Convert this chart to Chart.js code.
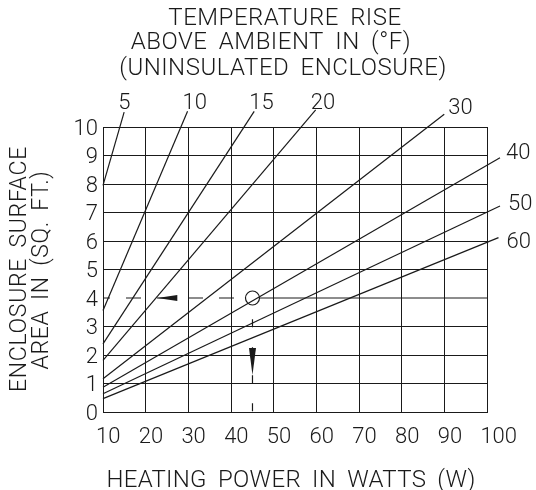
<!DOCTYPE html>
<html><head><meta charset="utf-8">
<script src="https://cdn.jsdelivr.net/npm/chart.js@4/dist/chart.umd.min.js"></script>
<style>html,body{margin:0;padding:0;background:#fff}</style>
</head><body>
<canvas id="c" width="536" height="490"></canvas>
<script>
// ---- data ----
const tempRiseLabels = ['5', '10', '15', '20', '30', '40', '50', '60'];
const lineStartPower = [10, 10, 10, 10, 10, 10, 10, 10];
const lineStartArea  = [7.95, 3.56, 2.39, 1.81, 1.17, 0.87, 0.64, 0.47];
const lineEndPower   = [14.95, 29.8, 45.4, 59.8, 89.9, 102.95, 102.95, 102.6];
const lineEndArea    = [10.52, 10.55, 10.55, 10.6, 10.45, 8.92, 7.23, 6.12];
const xTicks = [10, 20, 30, 40, 50, 60, 70, 80, 90, 100];
const yTicks = [0, 1, 2, 3, 4, 5, 6, 7, 8, 9, 10];
const examplePower = 45;
const exampleArea = 4;
const arrowLeftPower = [22.7, 27.4];   // tip, base
const arrowDownArea = [1.3, 2.25];     // tip, base
const titleLines = ['TEMPERATURE RISE', 'ABOVE AMBIENT IN (°F)', '(UNINSULATED ENCLOSURE)'];
const xTitle = 'HEATING POWER IN WATTS (W)';
const yTitle = ['ENCLOSURE SURFACE', 'AREA IN (SQ. FT.)'];

// ---- style / layout ----
const FONT = "Roboto, 'DejaVu Sans', sans-serif";
const WEIGHT = '300';
const INK = '#1a1a1a';
const titleCenters = [285, 271, 283];
const titleBaselines = [25, 49, 75];
const xTitlePos = [291, 487];
const yTitlePos = [[20, 269], [42, 270]];
const labelOffsets = [[-6,-3],[-5,-2],[-5,-2],[-5,-1],[4,0],[6,1],[8,4],[8,10]];
const CIRCLE_R = 7;

const lineSets = tempRiseLabels.map((t, i) => ({
  label: t,
  data: [{x: lineStartPower[i], y: lineStartArea[i]}, {x: lineEndPower[i], y: lineEndArea[i]}],
  showLine: true, borderColor: INK, borderWidth: 1.2, pointRadius: 0, clip: false, fill: false
}));

function spaced(ctx, ls, ws) {
  if ('letterSpacing' in ctx) ctx.letterSpacing = ls + 'px';
  if ('wordSpacing' in ctx) ctx.wordSpacing = ws + 'px';
}

const textPlugin = {
  id: 'texts',
  afterDatasetsDraw(chart) {
    const {ctx, scales: {x, y}} = chart;
    ctx.save();
    ctx.fillStyle = INK;
    ctx.strokeStyle = INK;
    // arrows
    const yp = y.getPixelForValue(exampleArea);
    const tip = x.getPixelForValue(arrowLeftPower[0]), base = x.getPixelForValue(arrowLeftPower[1]);
    ctx.beginPath(); ctx.moveTo(tip, yp); ctx.lineTo(base, yp - 3); ctx.lineTo(base, yp + 3); ctx.closePath(); ctx.fill();
    const xp = x.getPixelForValue(examplePower);
    const tipY = y.getPixelForValue(arrowDownArea[0]), baseY = y.getPixelForValue(arrowDownArea[1]);
    ctx.beginPath(); ctx.moveTo(xp, tipY); ctx.lineTo(xp - 3.5, baseY); ctx.lineTo(xp + 3.5, baseY); ctx.closePath(); ctx.fill();
    // line labels
    ctx.font = `${WEIGHT} 22px ${FONT}`;
    ctx.textAlign = 'left'; ctx.textBaseline = 'alphabetic';
    tempRiseLabels.forEach((t, i) => {
      const px = x.getPixelForValue(lineEndPower[i]), py = y.getPixelForValue(lineEndArea[i]);
      ctx.fillText(t, px + labelOffsets[i][0], py + labelOffsets[i][1]);
    });
    // titles
    spaced(ctx, 0.5, 5);
    ctx.font = `${WEIGHT} 24px ${FONT}`;
    ctx.textAlign = 'center';
    titleLines.forEach((s, i) => ctx.fillText(s, titleCenters[i], titleBaselines[i]));
    // x title
    spaced(ctx, 0.3, 5);
    ctx.fillText(xTitle, xTitlePos[0], xTitlePos[1]);
    // y title
    spaced(ctx, 0.7, 4);
    ctx.font = `${WEIGHT} 23px ${FONT}`;
    ctx.textBaseline = 'middle';
    yTitle.forEach((s, i) => {
      ctx.save();
      ctx.translate(yTitlePos[i][0], yTitlePos[i][1]);
      ctx.rotate(-Math.PI / 2);
      ctx.fillText(s, 0, 0);
      ctx.restore();
    });
    ctx.restore();
  }
};

new Chart(document.getElementById('c'), {
  type: 'scatter',
  data: {
    datasets: [
      ...lineSets,
      // dashed guide from the y axis to the example point
      { data: [{x: xTicks[0], y: exampleArea}, {x: examplePower - 1.63, y: exampleArea}],
        showLine: true, borderColor: INK, borderWidth: 1.2, borderDash: [15, 16], borderDashOffset: 8, pointRadius: 0 },
      // remaining part of the y=4 grid line, right of the example point
      { data: [{x: examplePower + 1.63, y: exampleArea}, {x: xTicks[xTicks.length - 1], y: exampleArea}],
        showLine: true, borderColor: INK, borderWidth: 1, pointRadius: 0 },
      // dash-dot guide down to the x axis
      { data: [{x: examplePower, y: exampleArea - 0.25}, {x: examplePower, y: yTicks[0]}],
        showLine: true, borderColor: INK, borderWidth: 1.2, borderDash: [8, 20], borderDashOffset: -14, pointRadius: 0 },
      { data: [{x: examplePower, y: exampleArea}], pointRadius: CIRCLE_R, pointStyle: 'circle',
        pointBorderColor: INK, pointBackgroundColor: 'rgba(0,0,0,0)', pointBorderWidth: 1.2, showLine: false }
    ]
  },
  options: {
    responsive: false, animation: false, devicePixelRatio: 1,
    layout: { padding: { left: 0, right: 47, top: 127, bottom: 0 } },
    plugins: { legend: { display: false }, tooltip: { enabled: false }, title: { display: false } },
    scales: {
      x: {
        type: 'linear', min: 10, max: 100,
        afterBuildTicks: s => { s.ticks = xTicks.map(v => ({value: v})); },
        afterFit: s => { s.height = 78; },
        grid: { color: INK, lineWidth: 1, drawTicks: false },
        border: { color: INK, width: 1 },
        ticks: { color: INK, font: { family: FONT, size: 22, weight: WEIGHT }, padding: 12, maxRotation: 0, autoSkip: false, align: 'start', labelOffset: -7 },
        title: { display: false }
      },
      y: {
        type: 'linear', min: 0, max: 10,
        afterBuildTicks: s => { s.ticks = yTicks.map(v => ({value: v})); },
        afterFit: s => { s.width = 103; },
        grid: { color: c => (c.tick && c.tick.value === exampleArea ? 'rgba(0,0,0,0)' : INK), lineWidth: 1, drawTicks: false },
        border: { color: INK, width: 1 },
        ticks: { color: INK, font: { family: FONT, size: 22, weight: WEIGHT }, padding: 5, labelOffset: 2, autoSkip: false },
        title: { display: false }
      }
    }
  },
  plugins: [textPlugin]
});
</script>
</body></html>
